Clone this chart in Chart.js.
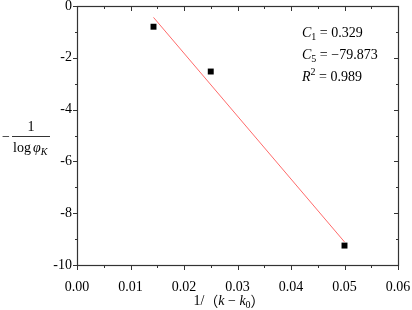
<!DOCTYPE html>
<html>
<head>
<meta charset="utf-8">
<script src="https://cdn.jsdelivr.net/npm/chart.js@4.4.1/dist/chart.umd.min.js"></script>
<style>
    body { margin: 0; background: #fff; }
    canvas { display: block; }
</style>
</head>
<body>
<canvas id="myChart" width="412" height="310"></canvas>
<script>
// measured points
const xValues = [0.0143, 0.025, 0.05];
const yValues = [-0.80, -2.53, -9.25];
// fitted line end points
const fitX = [0.0143, 0.05];
const fitY = [-0.44, -9.11];
// axes
const xTicks = [0, 0.01, 0.02, 0.03, 0.04, 0.05, 0.06];
const yTicks = [0, -2, -4, -6, -8, -10];
const fitText = [['C', '1', ' = 0.329'], ['C', '5', ' = \u221279.873'], ['R', '2', ' = 0.989']];

const SERIF = '"Liberation Serif", "Times New Roman", serif';
const AXIS_COLOR = '#333';

// draws the box around the plot with ticks (bottom/left outward, top/right inward)
const framePlugin = {
    id: 'frame',
    afterDraw(chart) {
        const ctx = chart.ctx;
        const area = chart.chartArea;
        const xs = chart.scales.x;
        const ys = chart.scales.y;
        ctx.save();
        ctx.strokeStyle = AXIS_COLOR;
        ctx.lineWidth = 1.2;
        ctx.strokeRect(Math.round(area.left) + 0.5, Math.round(area.top) + 0.5,
            Math.round(area.right - area.left), Math.round(area.bottom - area.top));

        ctx.lineWidth = 1;
        ctx.beginPath();
        for (let i = 0; i < xTicks.length; i++) {
            let vals = [xTicks[i]];
            if (i < xTicks.length - 1) vals.push((xTicks[i] + xTicks[i + 1]) / 2);
            vals.forEach((v, j) => {
                let px = Math.round(xs.getPixelForValue(v)) + 0.5;
                let len = j == 0 ? 4.5 : 2.5;
                let b = Math.round(area.bottom) + 0.5;
                let t = Math.round(area.top) + 0.5;
                ctx.moveTo(px, b);
                ctx.lineTo(px, b + len);
                ctx.moveTo(px, t);
                ctx.lineTo(px, t + len);
            });
        }
        for (let i = 0; i < yTicks.length; i++) {
            let vals = [yTicks[i]];
            if (i < yTicks.length - 1) vals.push((yTicks[i] + yTicks[i + 1]) / 2);
            vals.forEach((v, j) => {
                let py = Math.round(ys.getPixelForValue(v)) + 0.5;
                let len = j == 0 ? 4.5 : 2.5;
                let l = Math.round(area.left) + 0.5;
                let r = Math.round(area.right) + 0.5;
                ctx.moveTo(l, py);
                ctx.lineTo(l - len, py);
                ctx.moveTo(r, py);
                ctx.lineTo(r - len, py);
            });
        }
        ctx.stroke();

        ctx.fillStyle = '#000';
        ctx.textBaseline = 'middle';

        // y title:  - 1 / log phi_K
        ctx.font = '14px ' + SERIF;
        ctx.textAlign = 'left';
        ctx.fillText('\u2212', 2, 137);
        ctx.textAlign = 'center';
        ctx.fillText('1', 31, 127);
        ctx.beginPath();
        ctx.lineWidth = 0.8;
        ctx.strokeStyle = '#000';
        ctx.moveTo(12, 136.5);
        ctx.lineTo(50, 136.5);
        ctx.stroke();
        ctx.textAlign = 'left';
        let x = 13;
        ctx.fillText('log', x, 148);
        x += ctx.measureText('log').width + 2;
        ctx.font = 'italic 14px ' + SERIF;
        ctx.fillText('\u03C6', x, 148);
        x += ctx.measureText('\u03C6').width;
        ctx.font = 'italic 10px ' + SERIF;
        ctx.fillText('K', x, 152);

        // x title: 1/(k - k0)
        let parts = [
            ['14px ' + SERIF, '1/', 0],
            ['14px "Noto Sans CJK SC"', '\uFF08', 0],
            ['italic 14px ' + SERIF, 'k', 0],
            ['14px ' + SERIF, ' \u2212 ', 0],
            ['italic 14px ' + SERIF, 'k', 0],
            ['10px ' + SERIF, '0', 4],
            ['14px "Noto Sans CJK SC"', '\uFF09', 0]
        ];
        let total = 0;
        parts.forEach(p => { ctx.font = p[0]; total += ctx.measureText(p[1]).width; });
        x = 229 - total / 2;
        parts.forEach(p => {
            ctx.font = p[0];
            ctx.fillText(p[1], x, 301 + p[2]);
            x += ctx.measureText(p[1]).width;
        });

        // fit results
        fitText.forEach((t, i) => {
            let y = 33 + i * 22;
            let tx = 302;
            ctx.font = 'italic 14px ' + SERIF;
            ctx.fillText(t[0], tx, y);
            tx += ctx.measureText(t[0]).width;
            ctx.font = '10px ' + SERIF;
            let sy = t[0] == 'R' ? y - 5 : y + 4;
            ctx.fillText(t[1], tx, sy);
            tx += ctx.measureText(t[1]).width;
            ctx.font = '14px ' + SERIF;
            ctx.fillText(t[2], tx, y);
        });
        ctx.restore();
    }
};

function buildData() {
    let points = [];
    for (let i = 0; i < xValues.length; i++) {
        points.push({ x: xValues[i], y: yValues[i] });
    }
    let line = [];
    for (let i = 0; i < fitX.length; i++) {
        line.push({ x: fitX[i], y: fitY[i] });
    }
    return {
        datasets: [{
            type: 'scatter',
            label: 'data',
            data: points,
            pointStyle: 'rect',
            pointRadius: 4.2,
            pointBorderWidth: 0,
            backgroundColor: '#000',
            borderColor: '#000'
        }, {
            type: 'line',
            label: 'fit',
            data: line,
            borderColor: '#ff6a6a',
            borderWidth: 1,
            pointRadius: 0,
            fill: false
        }]
    };
}

const config = {
    type: 'scatter',
    data: buildData(),
    options: {
        responsive: false,
        animation: false,
        devicePixelRatio: 1,
        layout: { padding: { top: 6, right: 14, left: 0, bottom: 0 } },
        plugins: { legend: { display: false }, tooltip: { enabled: false } },
        scales: {
            x: {
                type: 'linear',
                min: 0,
                max: 0.06,
                afterBuildTicks: s => { s.ticks = xTicks.map(v => ({ value: v })); },
                afterFit: s => { s.height = 45; s.paddingLeft = 0; s.paddingRight = 0; },
                grid: { display: false, drawTicks: false, tickLength: 0 },
                border: { display: false },
                ticks: {
                    color: '#000',
                    padding: 14,
                    maxRotation: 0,
                    font: { family: SERIF, size: 14 },
                    callback: v => v.toFixed(2)
                }
            },
            y: {
                type: 'linear',
                min: -10,
                max: 0,
                afterBuildTicks: s => { s.ticks = yTicks.map(v => ({ value: v })); },
                afterFit: s => { s.width = 77; s.paddingTop = 0; s.paddingBottom = 0; },
                grid: { display: false, drawTicks: false, tickLength: 0 },
                border: { display: false },
                ticks: {
                    color: '#000',
                    padding: 5,
                    font: { family: SERIF, size: 14 },
                    callback: v => String(v)
                }
            }
        }
    },
    plugins: [framePlugin]
};

let myChart = new Chart(document.getElementById('myChart'), config);
</script>
</body>
</html>
